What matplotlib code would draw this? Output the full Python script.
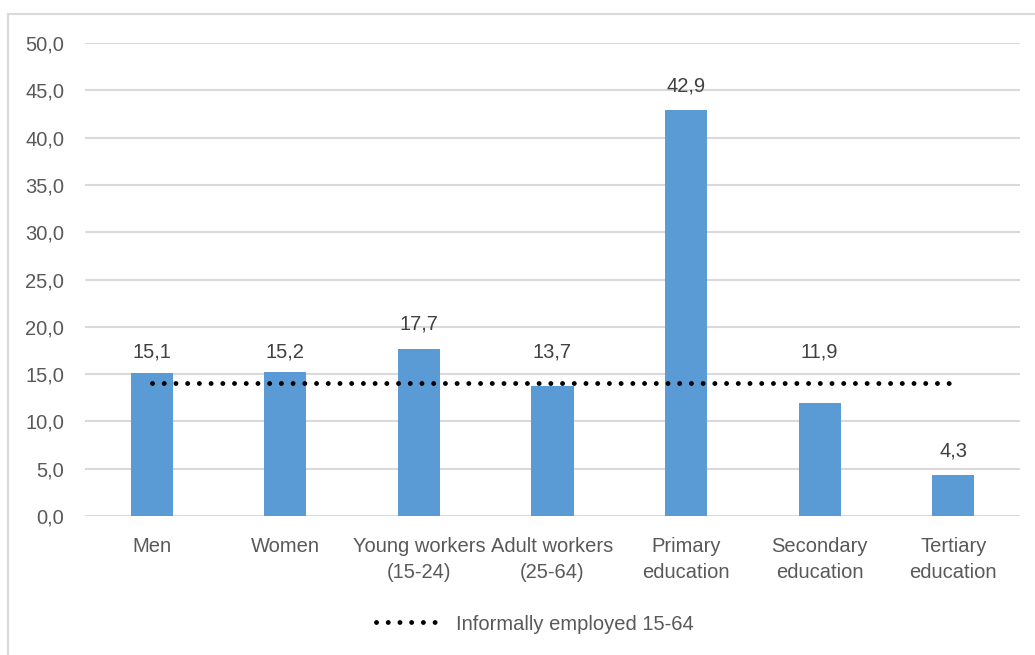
import matplotlib
matplotlib.use("Agg")
import matplotlib.pyplot as plt
from matplotlib.lines import Line2D

categories = ["Men", "Women", "Young workers\n(15-24)", "Adult workers\n(25-64)",
              "Primary\neducation", "Secondary\neducation", "Tertiary\neducation"]
values = [15.1, 15.2, 17.7, 13.7, 42.9, 11.9, 4.3]
line_value = 14.1
line_label = "Informally employed 15-64"
yticks = [0, 5, 10, 15, 20, 25, 30, 35, 40, 45, 50]

plt.rcParams['font.family'] = ["Liberation Sans", "DejaVu Sans"]
txt = "#595959"
fs = 14.5
dot_lw = 3.5
dot_style = (0, (0.01, 2.4))

fig = plt.figure(figsize=(10.35, 6.55), dpi=100)
ax = fig.add_axes([85/1035, 1-516/655, (1020-85)/1035, (516-43)/655])
# outer chart border (clipped on right and bottom as in the reference)
fig.add_artist(Line2D([8/1035, 8/1035], [0, 1-13.5/655], transform=fig.transFigure,
                      color="#d9d9d9", lw=1.5))
fig.add_artist(Line2D([8/1035, 1], [1-13.5/655, 1-13.5/655], transform=fig.transFigure,
                      color="#d9d9d9", lw=1.5))

x = list(range(len(categories)))
ax.bar(x, values, width=0.315, color="#5b9bd5", zorder=3)
ax.plot([x[0], x[-1]], [line_value, line_value], linestyle=dot_style,
        dash_capstyle="round", color="black", lw=dot_lw, zorder=4)

for xi, v in zip(x, values):
    base = line_value + 0.6 if abs(v - line_value) < 3 else v
    ax.text(xi, base + 1.6, f"{v:.1f}".replace(".", ","),
            ha="center", va="bottom", fontsize=fs, color="#404040")

ax.set_xlim(-0.5, len(categories) - 0.5)
ax.set_ylim(0, 50)
ax.set_yticks(yticks)
ax.set_yticklabels([f"{t:.1f}".replace(".", ",") for t in yticks], fontsize=fs, color=txt)
ax.set_xticks(x)
ax.set_xticklabels(categories, fontsize=fs, color=txt, linespacing=1.5)
ax.tick_params(length=0)
ax.tick_params(axis="y", pad=15)
ax.tick_params(axis="x", pad=15)
ax.grid(axis="y", color="#d9d9d9", lw=1.5, zorder=0)
for s in ax.spines.values():
    s.set_visible(False)

fig.legend(handles=[Line2D([], [], linestyle=dot_style, dash_capstyle="round",
                           color="black", lw=dot_lw)],
           labels=[line_label], loc="center", bbox_to_anchor=(535/1035, 1-624/655),
           frameon=False, fontsize=fs, labelcolor=txt, handlelength=3.4, handletextpad=0.6)

fig.savefig("out.png", dpi=100, facecolor="white")
